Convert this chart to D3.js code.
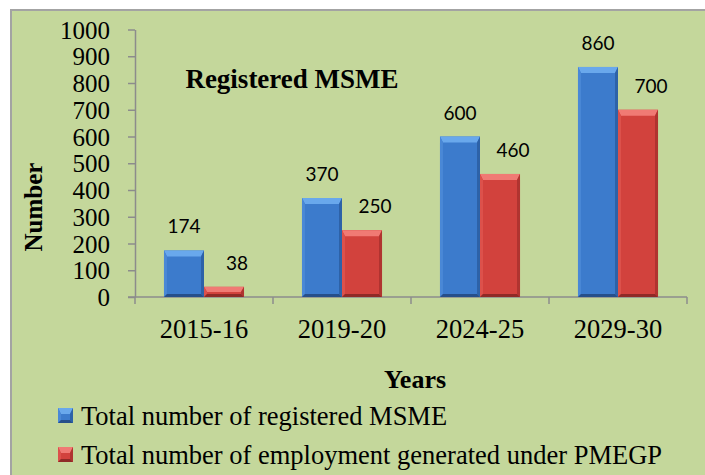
<!DOCTYPE html>
<html>
<head>
<meta charset="utf-8">
<script src="https://cdn.jsdelivr.net/npm/d3@7"></script>
<style>
  html, body { margin: 0; padding: 0; background: #fff; }
  svg { display: block; }
  .serif { font-family: 'Liberation Serif', 'Times New Roman', Lato, sans-serif; fill: #000; }
  .calibri { font-family: Lato, 'Noto Sans', sans-serif; fill: #000; }
</style>
</head>
<body>
<svg width="705" height="475"></svg>
<script>
const years = ['2015-16', '2019-20', '2024-25', '2029-30'];
const msme = [174, 370, 600, 860];
const employment = [38, 250, 460, 700];
const yTicks = [0, 100, 200, 300, 400, 500, 600, 700, 800, 900, 1000];
const seriesNames = ['Total number of registered MSME', 'Total number of employment generated under PMEGP'];

const svg = d3.select('svg');

// palettes for the bevelled bars: face, top, left, right, bottom
const palettes = [
  { face: '#3c7bcc', top: '#69a8ec', left: '#4a88d6', right: '#2d62a8', bottom: '#264f8a' },
  { face: '#d2423d', top: '#f07a74', left: '#dc514b', right: '#b03430', bottom: '#8f2a27' }
];

// chart frame
svg.append('rect')
  .attr('x', 11).attr('y', 10)
  .attr('width', 705).attr('height', 475)
  .attr('fill', '#c4d79b')
  .attr('stroke', '#a3a3a3')
  .attr('stroke-width', 2);

const plot = { left: 135, right: 687, top: 29.5, bottom: 297 };

const x = d3.scaleBand()
  .domain(years)
  .range([plot.left, plot.right])
  .paddingInner(0.42)
  .paddingOuter(0.21);

const xs = d3.scaleBand()
  .domain([0, 1])
  .range([0, x.bandwidth()]);

const y = d3.scaleLinear()
  .domain([0, 1000])
  .range([plot.bottom, plot.top]);

// y axis
const yAxis = svg.append('g')
  .attr('transform', `translate(${plot.left},0)`)
  .call(d3.axisLeft(y).tickValues(yTicks).tickFormat(d3.format('d'))
    .tickSize(7).tickPadding(18).tickSizeOuter(0));
yAxis.attr('font-family', null).attr('font-size', null);
yAxis.select('.domain').attr('stroke', '#8c8c8c').attr('stroke-width', 1.5);
yAxis.selectAll('.tick line').attr('stroke', '#8c8c8c').attr('stroke-width', 1.5);
yAxis.selectAll('.tick text')
  .attr('class', 'serif')
  .style('font-size', '25px')
  .attr('dy', '0.34em');

// x axis with category separators
const xAxisG = svg.append('g')
  .attr('transform', `translate(0,${plot.bottom})`);
xAxisG.append('line')
  .attr('x1', plot.left - 7).attr('x2', plot.right)
  .attr('stroke', '#8c8c8c').attr('stroke-width', 1.5);
const step = x.step();
const seps = d3.range(years.length + 1).map(i => plot.left + i * step);
xAxisG.selectAll('.sep')
  .data(seps)
  .join('line')
  .attr('class', 'sep')
  .attr('x1', d => d).attr('x2', d => d)
  .attr('y1', 0).attr('y2', 7)
  .attr('stroke', '#8c8c8c').attr('stroke-width', 1.5);
xAxisG.selectAll('.xlabel')
  .data(years)
  .join('text')
  .attr('class', 'serif')
  .attr('x', d => x(d) + x.bandwidth() / 2)
  .attr('y', 41)
  .attr('text-anchor', 'middle')
  .style('font-size', '26.5px')
  .text(d => d);

function bevelBar(g, bx, by, bw, bh, pal) {
  const t = Math.min(6, bh / 2), s = Math.min(3, bw / 4), b = Math.min(3, bh / 3);
  g.append('rect').attr('x', bx).attr('y', by).attr('width', bw).attr('height', bh).attr('fill', pal.face);
  g.append('polygon')
    .attr('points', [[bx, by], [bx + bw, by], [bx + bw - s, by + t], [bx + s, by + t]].join(' '))
    .attr('fill', pal.top);
  g.append('polygon')
    .attr('points', [[bx, by], [bx + s, by + t], [bx + s, by + bh - b], [bx, by + bh]].join(' '))
    .attr('fill', pal.left);
  g.append('polygon')
    .attr('points', [[bx + bw, by], [bx + bw - s, by + t], [bx + bw - s, by + bh - b], [bx + bw, by + bh]].join(' '))
    .attr('fill', pal.right);
  g.append('polygon')
    .attr('points', [[bx, by + bh], [bx + s, by + bh - b], [bx + bw - s, by + bh - b], [bx + bw, by + bh]].join(' '))
    .attr('fill', pal.bottom);
}

const bars = svg.append('g');
const labelShift = [0, 13];
[msme, employment].forEach((vals, si) => {
  vals.forEach((v, i) => {
    const bx = x(years[i]) + xs(si);
    const by = y(v);
    bevelBar(bars, bx, by, xs.bandwidth(), y(0) - by, palettes[si]);
    svg.append('text')
      .attr('class', 'calibri')
      .attr('x', bx + xs.bandwidth() / 2 + labelShift[si])
      .attr('y', by - 17)
      .attr('text-anchor', 'middle')
      .style('font-size', '19px')
      .text(v);
  });
});

// title inside plot
svg.append('text')
  .attr('class', 'serif')
  .attr('x', 292).attr('y', 88)
  .attr('text-anchor', 'middle')
  .style('font-size', '27px').style('font-weight', 'bold')
  .text('Registered MSME');

// axis titles
svg.append('text')
  .attr('class', 'serif')
  .attr('transform', 'translate(42,207) rotate(-90)')
  .attr('text-anchor', 'middle')
  .style('font-size', '25px').style('font-weight', 'bold')
  .text('Number');

svg.append('text')
  .attr('class', 'serif')
  .attr('x', 415).attr('y', 388)
  .attr('text-anchor', 'middle')
  .style('font-size', '26px').style('font-weight', 'bold')
  .text('Years');

// legend
const legend = svg.append('g');
seriesNames.forEach((name, i) => {
  const ly = 408 + i * 39;
  bevelBar(legend, 58, ly, 15, 15, palettes[i]);
  legend.append('text')
    .attr('class', 'serif')
    .attr('x', 81).attr('y', ly + 17)
    .style('font-size', '26.5px')
    .text(name);
});
</script>
</body>
</html>
